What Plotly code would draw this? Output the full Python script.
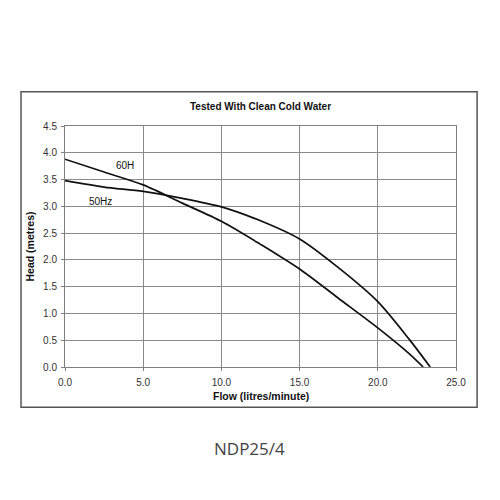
import plotly.graph_objects as go

flow_60 = [0, 2.5, 5, 7.5, 10, 12.5, 15, 17.5, 20, 22, 22.9]
head_60 = [3.88, 3.64, 3.40, 3.06, 2.72, 2.29, 1.83, 1.28, 0.73, 0.25, 0.0]

flow_50 = [0, 2.5, 5, 7.5, 10, 12.5, 15, 17.5, 20, 22, 23.35]
head_50 = [3.48, 3.36, 3.28, 3.15, 2.99, 2.73, 2.39, 1.85, 1.22, 0.52, 0.0]

x_ticks = [0, 5, 10, 15, 20, 25]
x_tick_labels = ["0.0", "5.0", "10.0", "15.0", "20.0", "25.0"]
y_ticks = [0, 0.5, 1, 1.5, 2, 2.5, 3, 3.5, 4, 4.5]
y_tick_labels = ["0.0", "0.5", "1.0", "1.5", "2.0", "2.5", "3.0", "3.5", "4.0", "4.5"]

title_text = "Tested With Clean Cold Water"
x_title = "Flow (litres/minute)"
y_title = "Head (metres)"
caption = "NDP25/4"

FONT = "Liberation Sans, Arial, sans-serif"

fig = go.Figure()
fig.add_trace(go.Scatter(x=flow_60, y=head_60, mode="lines", name="60H",
                         line=dict(color="#111111", width=1.7, shape="spline", smoothing=0.8)))
fig.add_trace(go.Scatter(x=flow_50, y=head_50, mode="lines", name="50Hz",
                         line=dict(color="#111111", width=1.7, shape="spline", smoothing=0.8)))

axis_common = dict(showgrid=True, gridcolor="#8a8a8a", gridwidth=1,
                   showline=True, linecolor="#808080", linewidth=1, mirror=True,
                   ticks="outside", ticklen=3, tickcolor="#808080", zeroline=False,
                   tickfont=dict(family=FONT, size=10, color="#333333"))

fig.update_xaxes(range=[0, 25], tickvals=x_ticks, ticktext=x_tick_labels, ticklabelstandoff=3, **axis_common)
fig.update_yaxes(range=[0, 4.5], tickvals=y_ticks, ticktext=y_tick_labels, ticklabelstandoff=2, **axis_common)

def ann(text, x, y, ref="paper", size=10, family=FONT, color="#111111", angle=0):
    return dict(text=text, x=x, y=y, xref=ref if ref == "paper" else "x",
                yref=ref if ref == "paper" else "y", showarrow=False,
                xanchor="center", yanchor="middle", textangle=angle,
                font=dict(family=family, size=size, color=color))

annotations = [
    ann("<b>" + title_text + "</b>", 0.501, 1.080, size=10),
    ann("<b>" + x_title + "</b>", 0.501, -0.12, size=10.5),
    ann("<b>" + y_title + "</b>", -0.092, 0.5, size=10.5, angle=-90),
    ann("60H", 3.84, 3.76, ref="data"),
    ann("50Hz", 2.28, 3.09, ref="data"),
    ann(caption, 0.473, -0.34, size=17, family="Open Sans, sans-serif", color="#444444"),
]

fig.update_layout(
    width=500, height=500,
    margin=dict(l=57, r=52, t=118, b=141),
    paper_bgcolor="white", plot_bgcolor="white",
    showlegend=False,
    annotations=annotations,
    shapes=[dict(type="rect", xref="paper", yref="paper",
                 x0=-0.1125, x1=1.054, y0=-0.167, y1=1.142,
                 line=dict(color="#555555", width=1.5), layer="below")],
)

fig.write_html("out.html")
